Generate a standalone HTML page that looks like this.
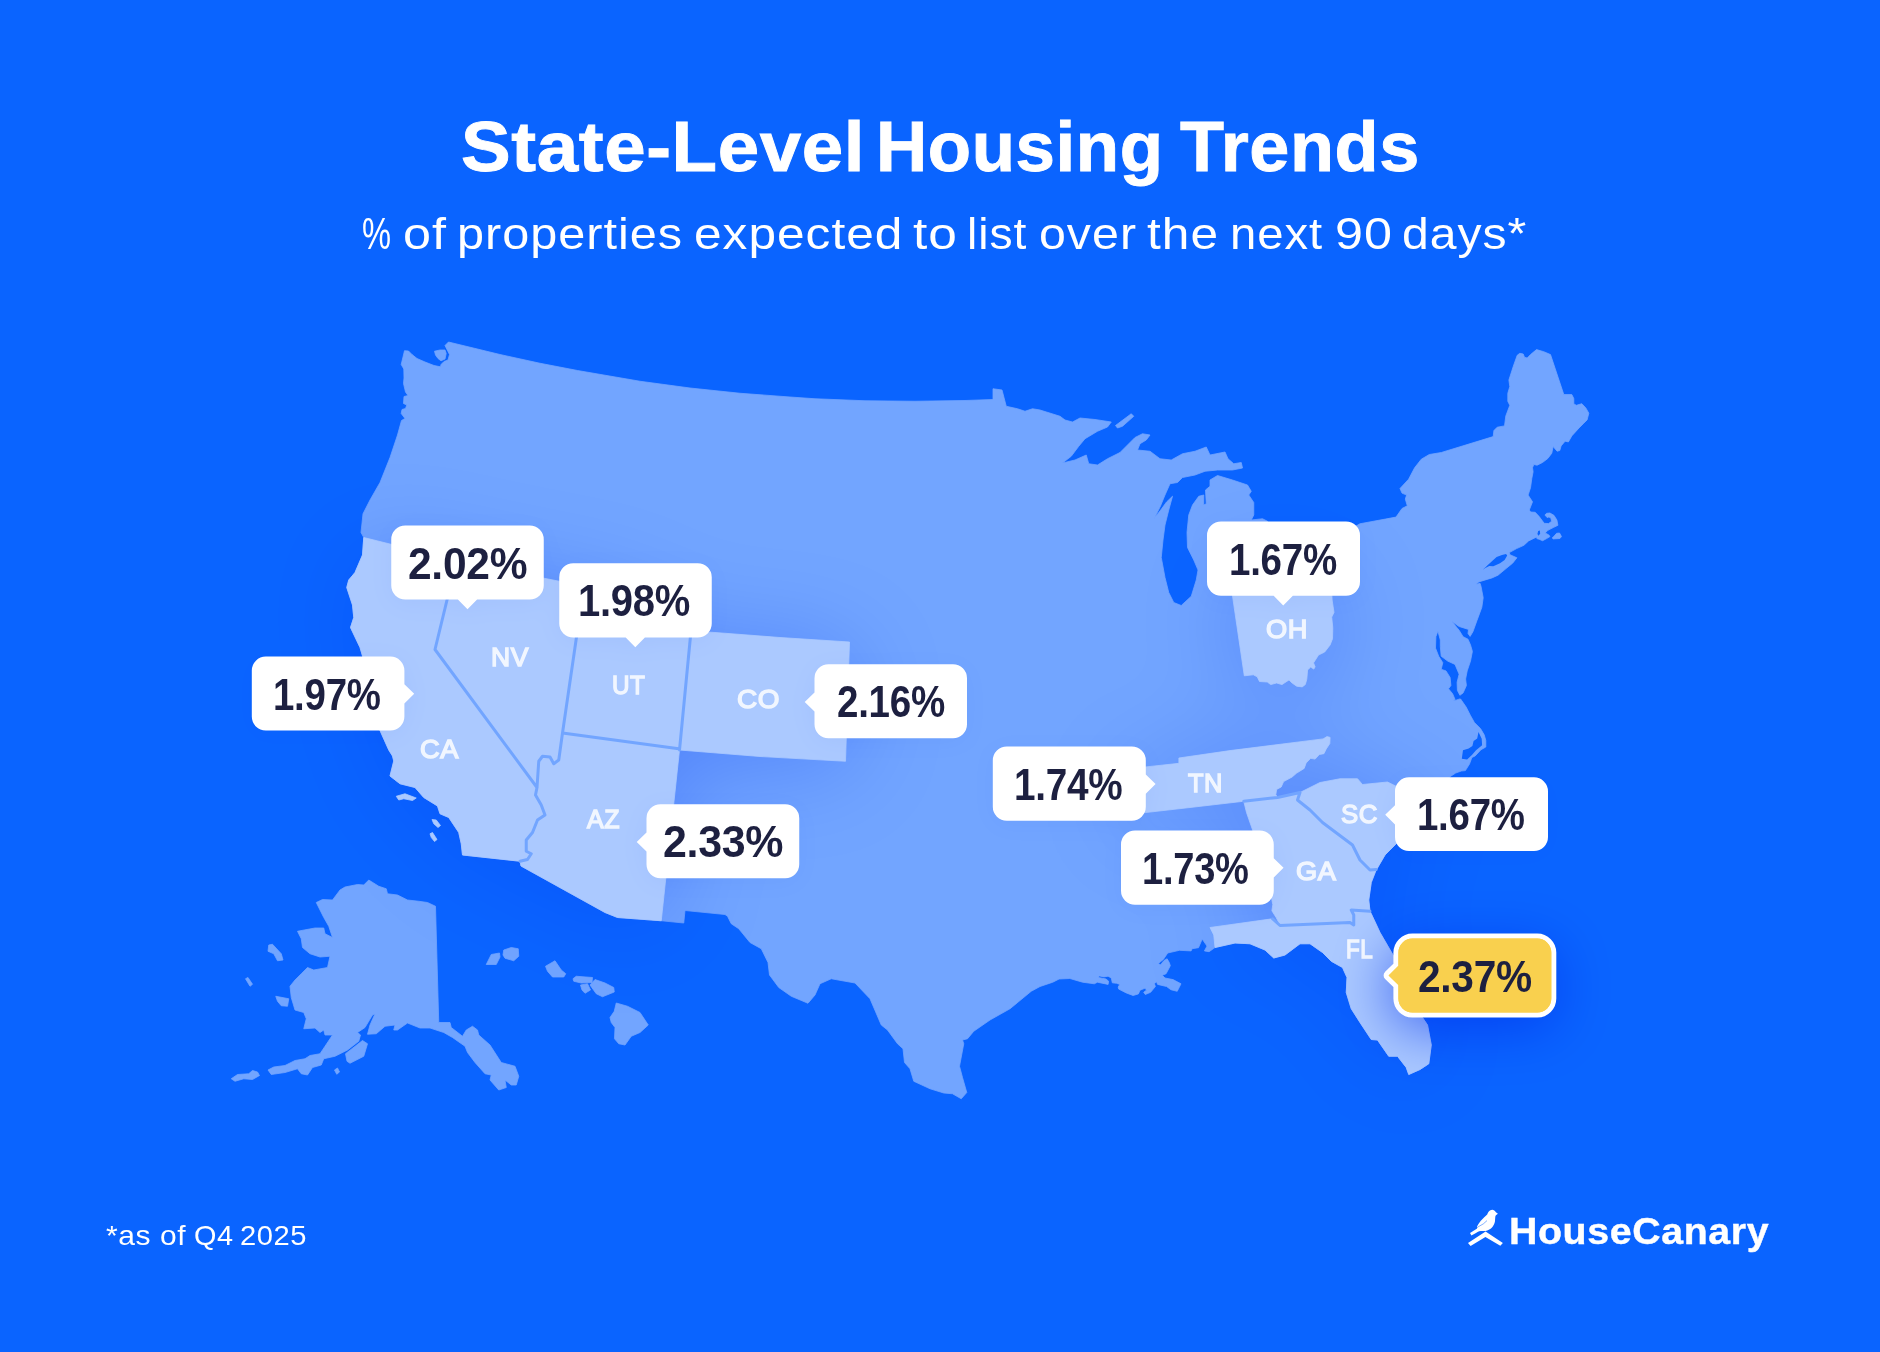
<!DOCTYPE html>
<html lang="en">
<head>
<meta charset="utf-8">
<title>State-Level Housing Trends</title>
<style>
html,body{margin:0;padding:0;}
body{width:1880px;height:1352px;overflow:hidden;background:#0A64FF;font-family:"Liberation Sans",sans-serif;}
#page{position:relative;width:1880px;height:1352px;background:#0A64FF;overflow:hidden;}
#map{position:absolute;left:0;top:0;width:1880px;height:1352px;}
h1{position:absolute;left:0;top:104px;width:1880px;height:86px;margin:0;color:#fff;font-weight:700;
 font-size:71px;line-height:86px;white-space:nowrap;-webkit-text-stroke:0.9px #fff;}
h1 span,h2 span,#foot span,#brand span{position:absolute;top:0;transform-origin:0 50%;}
h2{position:absolute;left:0;top:207px;width:1880px;height:54px;margin:0;color:#fff;font-weight:400;
 font-size:43.5px;line-height:54px;white-space:nowrap;}
.val{position:absolute;margin:0;color:#1D2040;font-weight:700;font-size:44px;line-height:50px;
 transform-origin:0 50%;white-space:nowrap;}
.ab{position:absolute;margin:0;color:#fff;opacity:.84;font-weight:400;font-size:26.5px;line-height:30px;
 -webkit-text-stroke:1.4px #fff;transform-origin:0 50%;white-space:nowrap;}
#foot{position:absolute;left:0;top:1216.5px;width:600px;height:36px;margin:0;color:#fff;font-size:28.5px;line-height:36px;white-space:nowrap;}
#brand{position:absolute;left:0;top:1208px;width:1880px;height:46px;margin:0;color:#fff;font-weight:700;font-size:37.5px;
 line-height:46px;white-space:nowrap;-webkit-text-stroke:0.4px #fff;}
</style>
</head>
<body>
<div id="page">
<svg id="map" width="1880" height="1352" viewBox="0 0 1880 1352">
<defs>
<filter id="sh" x="-30%" y="-30%" width="160%" height="160%" color-interpolation-filters="sRGB">
<feGaussianBlur in="SourceAlpha" stdDeviation="48"/>
<feOffset dx="2" dy="8"/>
<feColorMatrix type="matrix" values="0 0 0 0 0.02  0 0 0 0 0.22  0 0 0 0 0.95  0 0 0 0.30 0"/>
</filter>
<filter id="gsh" x="-60%" y="-80%" width="220%" height="280%" color-interpolation-filters="sRGB">
<feGaussianBlur in="SourceAlpha" stdDeviation="28"/>
<feOffset dx="0" dy="12"/>
<feColorMatrix type="matrix" values="0 0 0 0 0.0  0 0 0 0 0.18  0 0 0 0 0.92  0 0 0 0.62 0"/>
</filter>
<filter id="lsh" x="-30%" y="-50%" width="160%" height="200%" color-interpolation-filters="sRGB">
<feGaussianBlur in="SourceAlpha" stdDeviation="12"/>
<feOffset dx="0" dy="4"/>
<feColorMatrix type="matrix" values="0 0 0 0 0.0  0 0 0 0 0.2  0 0 0 0 0.9  0 0 0 0.05 0"/>
</filter>
</defs>
<path d="M448.5 342 L500 354.5 L540 363.25 L577.5 370.5 L640 381.25 L690 388 L740 393.25 L790 397 L815 398.75 L865 400.75 L915 401.25 L965 400.5 L993 399.5 L993 388.75 L1002 390 L1006.25 406.25 L1017.5 408.75 L1025 411.25 L1032.5 408.75 L1040 410 L1060 416.25 L1065 420 L1072.5 422 L1080 418 L1095 419.5 L1111.25 422 L1107.5 427 L1097.5 431.25 L1085 438.75 L1078.75 446.25 L1071.25 456.25 L1062.5 463 L1075 460 L1086.25 455 L1088.75 463.75 L1097.5 465 L1107.5 458.75 L1120 452.5 L1127.5 445 L1135 437.5 L1142.5 433.75 L1150 435 L1146.25 440 L1140 443.75 L1137.5 450 L1150 451.25 L1160 458.75 L1171.25 460 L1182.5 453.75 L1195 451.25 L1206.25 447 L1210 455 L1225 452 L1228 458.75 L1233.75 463.75 L1241.25 462.5 L1242.5 468 L1232.5 470 L1217.5 470 L1205 471.25 L1195 475 L1182.5 477.5 L1177.5 482.5 L1170 483.75 L1165 495 L1160.5 506 L1155.5 516 L1153.75 518.75 L1160 511 L1166.5 502 L1172.5 496.25 L1168.75 510 L1165 525 L1163 540 L1161.25 557.5 L1165 577.5 L1168.75 592.5 L1173.75 602.5 L1181.25 605.5 L1191.25 596.25 L1196.25 580 L1198 570 L1193.75 560 L1187.5 547.5 L1187 532.5 L1188.75 515 L1192.5 505 L1198.75 496.25 L1203.75 495 L1203.75 505 L1206.25 503.75 L1205.5 490 L1210 486.25 L1210 480 L1217.5 475.5 L1232.5 480 L1247.5 485 L1251.25 491.25 L1248.75 495 L1253.75 502.5 L1253.75 515 L1251.25 520 L1262.5 518.75 L1267.5 521.25 L1270 530 L1263 545 L1268 560 L1290 566 L1320 556 L1345 543 L1358 533 L1356 526 L1360 523.75 L1385.3 519.1 L1396 517.1 L1402 508.5 L1407.3 505.8 L1405.3 499.1 L1406.6 495.1 L1402 493.1 L1400 488.5 L1408.6 479.2 L1414.6 467.8 L1421.3 459.2 L1429.3 454.5 L1441.3 452.5 L1493.2 436.6 L1493.9 430.6 L1497.2 427.2 L1504.5 425.9 L1505.8 415.9 L1509.8 405.3 L1507.8 401.3 L1507.8 393.3 L1509.8 386.6 L1508.9 380 L1513.2 366.6 L1517.2 355.3 L1519.8 353.3 L1523.2 354 L1524.5 357.3 L1527.2 358 L1530.5 354.6 L1536.5 349.6 L1543.8 351.7 L1550.5 354.6 L1563.8 394.6 L1571.8 394.6 L1573.8 398.6 L1573.8 403.9 L1576.4 405.3 L1581.8 403.7 L1585.8 407.9 L1588.8 413.2 L1587.1 419.9 L1583.8 423.2 L1579.1 427.9 L1571.8 435.9 L1568.4 441.9 L1565.1 441.2 L1561.1 445.9 L1559.8 450.5 L1557.1 451.2 L1553.1 446.5 L1551.8 453.2 L1547.8 458.5 L1542.5 462.5 L1537.1 465.2 L1533.8 464.5 L1532.5 467.8 L1533.1 471.8 L1531.8 478.5 L1530.5 487.8 L1528.1 495.1 L1532.5 501.8 L1529.3 510 L1530.6 512 L1535.2 512.3 L1539.2 516.6 L1544.2 523.3 L1548.6 523.6 L1551.6 521.3 L1550.9 518 L1548.9 517 L1547.2 517.6 L1544.9 515 L1546.6 513.3 L1549.9 513 L1553.9 515.3 L1556.9 520 L1557.9 525.3 L1553.2 527.6 L1547.9 530.3 L1545.2 533 L1548.9 535 L1549.9 536.6 L1546.6 538.6 L1542.6 540.7 L1539.2 539.3 L1536.9 538.6 L1536.6 537 L1528.6 540.9 L1523.9 545.3 L1516.6 548.6 L1509.3 552.6 L1509.9 554.7 L1516.9 557.8 L1512.6 563.2 L1506 568.6 L1498 575.2 L1492 577.9 L1478.7 581.9 L1476 584.6 L1480 583.2 L1481 586.3 L1483.2 597.7 L1481.8 607.4 L1477 620.4 L1472.9 631.8 L1470.1 636.4 L1468 633.5 L1468.5 629.4 L1459.1 626.5 L1451.7 621.3 L1459.1 630.2 L1463.1 636.7 L1468 639.2 L1470.5 644.9 L1472.4 651.4 L1470.5 661.1 L1467.2 670.9 L1465.6 679 L1466.4 685.5 L1463.1 692.9 L1459.9 695.3 L1457.4 690.4 L1457.1 682.3 L1459.1 674.2 L1455 664.4 L1447.7 661.1 L1441.2 656.2 L1440.3 646.5 L1440.3 640 L1437.9 631 L1435.9 636.7 L1435.5 648.1 L1438.7 656.2 L1442.8 662.7 L1441.2 669.3 L1446 670.9 L1450.1 677.4 L1450.9 685.5 L1448.5 688.8 L1452.6 693.7 L1455 699.4 L1453.4 701 L1459.9 698.9 L1460.6 699 L1466.2 707.1 L1470.3 715.2 L1474.4 722.5 L1480.5 728.6 L1484.2 734.8 L1485.8 740.4 L1485.8 747 L1480.9 749.8 L1475.2 755.9 L1471.9 757.5 L1469.5 764 L1465.4 770.6 L1461.4 771 L1455.7 773 L1450 776.7 L1440 790 L1420 815 L1400 840 L1385 855 L1376.25 870 L1371.25 882.5 L1368.75 900 L1370 911.25 L1371.25 913.75 L1380 932.5 L1393.75 956.25 L1410 990 L1422.5 1017.5 L1427.5 1025 L1431.25 1045 L1428.75 1063.75 L1420 1069.5 L1408.75 1074.5 L1406.25 1067.5 L1397.5 1056.25 L1388.75 1056.25 L1377.5 1040 L1371.25 1039.5 L1360 1022.5 L1351.25 1008.75 L1346.25 992.5 L1347 977.5 L1342.5 967.5 L1331.25 961.25 L1322.5 952.5 L1310 943.75 L1300 943.75 L1285 955 L1273.75 958 L1265 950 L1250 943.75 L1235 943 L1215 947.5 L1209.1 951.7 L1204.4 950.9 L1207 946.1 L1202.2 939.1 L1198.5 947.7 L1192.1 948.7 L1191.1 950.9 L1179.4 950.3 L1167.7 953 L1163.4 959.4 L1158.1 963.6 L1160.7 964.7 L1164 960.5 L1167.1 958.8 L1169.3 962.6 L1170.3 965.7 L1166.1 973.7 L1162.3 975.3 L1165 978 L1173 979.6 L1181 983.8 L1177.2 991.3 L1170.9 989.7 L1166.6 986.5 L1157.6 984.4 L1156.5 981.7 L1154.4 983.8 L1155.4 986.5 L1150.6 992.3 L1145.3 994.5 L1143.7 992.3 L1146.4 990.2 L1145.3 988.1 L1140 990.2 L1138.4 993.9 L1133.1 995.5 L1126.2 992.9 L1118.7 989.1 L1118.2 987 L1119.8 984.4 L1116.6 983.3 L1112.3 982.8 L1111.3 978 L1108.1 976.2 L1103.8 976.9 L1099.6 975.9 L1098 977.4 L1106 979 L1108.6 981.2 L1108.1 984.4 L1097.4 982.2 L1094.3 983.8 L1082.6 982.2 L1069.8 978.5 L1059.1 979 L1052.8 982.2 L1040 986.5 L1031.25 991.25 L1010 1008.75 L990 1020 L973.75 1031.25 L967.5 1038.75 L962.5 1040 L963.75 1043.75 L959.5 1066.25 L962.5 1077.5 L966.75 1092.5 L961.25 1098.75 L952.5 1093.75 L943.75 1093 L930 1088.75 L913.75 1081.25 L910 1068.75 L904.5 1062.5 L903 1048.75 L897.5 1043.75 L887.5 1030 L881.25 1025 L870 998.75 L855 983 L831.25 978.75 L820 983.75 L815 995 L808 1003.25 L791.25 996.25 L778.75 987.5 L769.5 975 L768 962.5 L761.25 948.75 L750 942.5 L738.75 928.75 L731.25 923.75 L727.5 916.25 L725 914.5 L685 910.5 L683.75 923 L661.25 920.75 L617.5 917.5 L605 912.5 L521 866 L520 861.25 L462.5 855 L461.25 843.75 L458.75 832.5 L448.75 817.5 L440 813.75 L437.5 806 L423.75 797.5 L415 787.5 L400 783.75 L390 776 L393.75 761 L392.5 756 L388.75 750 L380 730.5 L376 715 L377 705 L370 690 L371 680 L366 668 L362.5 656 L360 647.5 L350.5 627.5 L353.75 617.5 L352.5 605 L346.75 587.5 L348.75 580 L355 572.5 L362.5 555 L363.75 537.5 L361 532.5 L363 513.75 L370 500 L380 482.5 L390 457.5 L397.5 435 L401.5 420.5 L405 418.5 L401.2 413.5 L402 409.5 L405.5 408.5 L406.8 405 L403.5 403.5 L404 396.5 L408 395.5 L405.5 392 L403.5 383.5 L404 378 L403.8 369 L401.2 364.5 L403 357 L404.5 350.7 L408.5 351 L412 354.5 L417 358.5 L425 362 L434 365.5 L440.5 366.8 L441 364.5 L444 361.5 L448 360 L449.5 354.5 L445 345.5Z M434.5 351.2 L440 350 L445 350 L446.2 353.5 L445 359 L441 360.8 L438 358.5 L435.5 355Z M1115.5 425.5 L1131.25 413.75 L1133.75 416.25 L1122.5 426.25 L1117.5 428Z M1552.2 538 L1554.2 536 L1556.6 533.3 L1559.5 533 L1561.5 536.6 L1559.9 538.5 L1553.2 538.9Z M368.75 880 L378.75 886.25 L386.25 888.75 L387.5 893.75 L397.5 895 L407.5 900 L418.75 901.25 L427.5 902.5 L435.5 906.25 L438.75 1022.5 L450 1022.5 L451.25 1027.5 L462.5 1036.25 L466.25 1030 L472.5 1026.25 L477.5 1030 L478.75 1035 L490 1045 L501.25 1062.5 L515 1066.25 L518.75 1076.25 L516.25 1085 L511.25 1085 L505 1080 L506.25 1087.5 L498.75 1090 L490 1080 L491.25 1075 L485 1073.75 L475 1062.5 L467.5 1052.5 L465 1046.25 L452.5 1037.5 L443.75 1032.5 L430 1028 L420 1028 L407.5 1023 L397.5 1030 L393.75 1030 L395 1025 L385 1026.25 L376.25 1033.75 L367.5 1034.25 L370 1025 L375 1013.75 L380 1011.25 L372.5 1015 L365 1027.5 L357.5 1032.5 L360.5 1035 L358.75 1041.25 L347.5 1050 L335 1056.25 L323.75 1058.75 L321.25 1065 L312.5 1067.5 L307.5 1075 L301.25 1073.75 L297.5 1068.75 L285 1072.5 L271.25 1074.5 L268 1070 L273.75 1067 L285 1065.5 L295 1060.5 L305 1058.75 L310 1055.5 L320 1053.75 L325 1046.25 L332.5 1035 L325 1035 L323.75 1030 L320 1032.5 L315 1028 L303.75 1028.75 L306.25 1018.75 L303.75 1012.5 L295 1010 L291.25 997.5 L290 986.25 L295 980 L301.25 973.75 L307.5 967.5 L313.75 970 L327.5 967.5 L330 956.25 L320 957 L310 953.75 L302.5 947.5 L301.25 938.75 L297.5 931.25 L315 928 L323.75 928 L325 933.75 L332.5 937.5 L328.75 926.25 L323.75 917.5 L316.25 902.5 L322.5 899.5 L332.5 900 L340 890 L345 887 L357.5 884.5 L363.75 885Z M268.75 945 L272.5 944.25 L281.25 953.75 L283 960 L277.5 960.75 L273.75 953.75 L268 951.25Z M245.5 978.75 L248 977.5 L252.5 984.25 L250 986.25Z M275.75 996.25 L288.75 998.75 L287.5 1006.25 L281.25 1005.75 L277.5 1001.25Z M345.5 1053.75 L362.5 1040.5 L367.5 1043.75 L363.75 1056.25 L350 1063.25 L347 1061.25Z M334.5 1070 L337.5 1068 L339.5 1072 L336.75 1074.25Z M231.25 1078.75 L237.5 1074.5 L248.75 1073.75 L252.5 1070.5 L257.5 1072 L259.5 1075.5 L252.5 1079.5 L243.75 1078.75 L235 1081.25Z M486.25 964.5 L491.25 954.5 L499.5 953 L500 957 L496.25 964.5Z M503.75 950 L511.25 947.5 L518.25 948.75 L518.75 956.25 L513.75 960.75 L505 958.25 L503 955Z M545.5 966.25 L555 960.75 L561.25 970 L565.75 973.75 L563.75 977 L552.5 977 L547.5 971.25Z M573 978.75 L576.25 976.25 L592.5 977.5 L592 982.5 L581.25 983 L573.75 981.25Z M580.5 985 L587.5 983.75 L590.5 990 L585 993.25 L582 990Z M590 985 L595 979.5 L605 983 L613.75 987.5 L614.25 992 L602.5 996.75 L596.25 993.75Z M610 1017.5 L614.25 1011.25 L616.25 1003 L627.5 1006.25 L640 1012.5 L648.25 1025 L640 1032.5 L631.25 1036.25 L625 1045 L618.75 1043.75 L614.5 1038.75 L615 1027.5 L611.25 1022.5Z" fill="#72A5FF" stroke="#72A5FF" stroke-width="0.8" stroke-linejoin="round"/>
<path d="M1482.6 569.9 L1487.3 565.6 L1496.6 557.1 L1502 554.9 L1506 554.1 L1507.2 555.6 L1504.6 559.9 L1500 563.2 L1493.3 566.2 L1489.3 565.9 L1485.3 567.9Z M1538.2 531 L1539.8 530.5 L1540.2 533.5 L1538.6 535.8 L1537.4 534Z M1478.5 731.9 L1481.7 738.8 L1482.1 745.3 L1476 750.2 L1471.9 755.1 L1467.1 759.6 L1461.8 758.8 L1463 750.2 L1468.7 748.6 L1472.4 746.1 L1473.6 740.9 L1477.2 738.4Z" fill="#0A64FF"/>
<g filter="url(#sh)"><path d="M462.5 855 L461.25 843.75 L458.75 832.5 L448.75 817.5 L440 813.75 L437.5 806 L423.75 797.5 L415 787.5 L400 783.75 L390 776 L393.75 761 L392.5 756 L388.75 750 L380 730.5 L376 715 L377 705 L370 690 L371 680 L366 668 L362.5 656 L360 647.5 L350.5 627.5 L353.75 617.5 L352.5 605 L346.75 587.5 L348.75 580 L355 572.5 L362.5 555 L363.75 537.5 L410 549 L461.5 561.5 L510 571.5 L559.25 581.25 L584 586 L652 597 L648 625 L691 631 L715 632.5 L780 637.5 L849.5 642 L845.5 761.25 L760 756.5 L679.5 750 L661.25 920.75 L617.5 917.5 L605 912.5 L521 866 L520 861.25Z M396.25 796.25 L405 793.75 L416.25 798 L412.5 800.5 L403.75 798.75 L398.75 800Z M432 819.5 L436.25 820 L440.5 825.5 L438 827.5 L433.75 823.75Z M430 833.75 L432.5 832.5 L437 839.5 L434.5 841.5 L431.25 837.5Z M1125 769 L1145.9 766.9 L1178.9 763.35 L1178.9 758 L1230 750.6 L1323.1 738.9 L1327 736.6 L1330.1 737.4 L1329.8 743.6 L1326.2 749 L1323.9 753.7 L1319.3 754.5 L1315.1 759.1 L1310.7 758.3 L1306.1 763 L1304.2 768.4 L1296.7 773.1 L1292.1 777 L1283.6 781.6 L1281.2 787 L1276.6 789.4 L1275.8 794.8 L1277.3 796.8 L1243.75 801.25 L1190 807.5 L1145.9 812.5 L1125 815Z M1243.75 801.25 L1277.5 797.5 L1300 792.5 L1297.5 800 L1310 810 L1322.5 822.5 L1342.5 837.5 L1352.5 845 L1360 860 L1370 870 L1376.25 869.5 L1371.25 882.5 L1368.75 900 L1370 911.25 L1351.25 910 L1353.75 915 L1353.75 925 L1350 922.5 L1280 925 L1276.3 917.8 L1271.9 910.8 L1272.8 904.65 L1268 880 L1260 855 L1252.6 830 L1246.5 812.5Z M1300 792.5 L1320 782.5 L1340 778.75 L1357.5 778.75 L1362.5 784.5 L1387.5 782 L1398.75 787.5 L1440 795 L1420 815 L1400 840 L1385 855 L1376.25 870 L1370 870 L1360 860 L1352.5 845 L1342.5 837.5 L1322.5 822.5 L1310 810 L1297.5 800Z M1210 927.5 L1272.5 918.75 L1280 925.5 L1350 922.5 L1353.75 925 L1353.75 915 L1351.25 910 L1370 911.25 L1371.25 913.75 L1380 932.5 L1393.75 956.25 L1410 990 L1422.5 1017.5 L1427.5 1025 L1431.25 1045 L1428.75 1063.75 L1420 1069.5 L1408.75 1074.5 L1406.25 1067.5 L1397.5 1056.25 L1388.75 1056.25 L1377.5 1040 L1371.25 1039.5 L1360 1022.5 L1351.25 1008.75 L1346.25 992.5 L1347 977.5 L1342.5 967.5 L1331.25 961.25 L1322.5 952.5 L1310 943.75 L1300 943.75 L1285 955 L1273.75 958 L1265 950 L1250 943.75 L1235 943 L1215 947.5 L1213.75 935Z M1229 570 L1233.1 600 L1244.3 675.8 L1253.3 674.8 L1257.2 676.8 L1259.5 681.5 L1267.3 682 L1270.7 684.6 L1276.6 683 L1282 684.6 L1289 679.9 L1292.1 683 L1296.7 686.2 L1302.2 686.9 L1305.3 684.6 L1306.8 679.2 L1307.6 669.9 L1310.7 667.1 L1313.8 669.1 L1315.1 666.8 L1313.5 662.9 L1318.5 655.1 L1324.7 652 L1330.1 645 L1332.5 638.8 L1332.8 627.9 L1331.7 617.1 L1334 612.4 L1332.1 600 L1331 570Z" fill="#000"/></g>
<path d="M462.5 855 L461.25 843.75 L458.75 832.5 L448.75 817.5 L440 813.75 L437.5 806 L423.75 797.5 L415 787.5 L400 783.75 L390 776 L393.75 761 L392.5 756 L388.75 750 L380 730.5 L376 715 L377 705 L370 690 L371 680 L366 668 L362.5 656 L360 647.5 L350.5 627.5 L353.75 617.5 L352.5 605 L346.75 587.5 L348.75 580 L355 572.5 L362.5 555 L363.75 537.5 L410 549 L461.5 561.5 L510 571.5 L559.25 581.25 L584 586 L652 597 L648 625 L691 631 L715 632.5 L780 637.5 L849.5 642 L845.5 761.25 L760 756.5 L679.5 750 L661.25 920.75 L617.5 917.5 L605 912.5 L521 866 L520 861.25Z M396.25 796.25 L405 793.75 L416.25 798 L412.5 800.5 L403.75 798.75 L398.75 800Z M432 819.5 L436.25 820 L440.5 825.5 L438 827.5 L433.75 823.75Z M430 833.75 L432.5 832.5 L437 839.5 L434.5 841.5 L431.25 837.5Z M1125 769 L1145.9 766.9 L1178.9 763.35 L1178.9 758 L1230 750.6 L1323.1 738.9 L1327 736.6 L1330.1 737.4 L1329.8 743.6 L1326.2 749 L1323.9 753.7 L1319.3 754.5 L1315.1 759.1 L1310.7 758.3 L1306.1 763 L1304.2 768.4 L1296.7 773.1 L1292.1 777 L1283.6 781.6 L1281.2 787 L1276.6 789.4 L1275.8 794.8 L1277.3 796.8 L1243.75 801.25 L1190 807.5 L1145.9 812.5 L1125 815Z M1243.75 801.25 L1277.5 797.5 L1300 792.5 L1297.5 800 L1310 810 L1322.5 822.5 L1342.5 837.5 L1352.5 845 L1360 860 L1370 870 L1376.25 869.5 L1371.25 882.5 L1368.75 900 L1370 911.25 L1351.25 910 L1353.75 915 L1353.75 925 L1350 922.5 L1280 925 L1276.3 917.8 L1271.9 910.8 L1272.8 904.65 L1268 880 L1260 855 L1252.6 830 L1246.5 812.5Z M1300 792.5 L1320 782.5 L1340 778.75 L1357.5 778.75 L1362.5 784.5 L1387.5 782 L1398.75 787.5 L1440 795 L1420 815 L1400 840 L1385 855 L1376.25 870 L1370 870 L1360 860 L1352.5 845 L1342.5 837.5 L1322.5 822.5 L1310 810 L1297.5 800Z M1210 927.5 L1272.5 918.75 L1280 925.5 L1350 922.5 L1353.75 925 L1353.75 915 L1351.25 910 L1370 911.25 L1371.25 913.75 L1380 932.5 L1393.75 956.25 L1410 990 L1422.5 1017.5 L1427.5 1025 L1431.25 1045 L1428.75 1063.75 L1420 1069.5 L1408.75 1074.5 L1406.25 1067.5 L1397.5 1056.25 L1388.75 1056.25 L1377.5 1040 L1371.25 1039.5 L1360 1022.5 L1351.25 1008.75 L1346.25 992.5 L1347 977.5 L1342.5 967.5 L1331.25 961.25 L1322.5 952.5 L1310 943.75 L1300 943.75 L1285 955 L1273.75 958 L1265 950 L1250 943.75 L1235 943 L1215 947.5 L1213.75 935Z M1229 570 L1233.1 600 L1244.3 675.8 L1253.3 674.8 L1257.2 676.8 L1259.5 681.5 L1267.3 682 L1270.7 684.6 L1276.6 683 L1282 684.6 L1289 679.9 L1292.1 683 L1296.7 686.2 L1302.2 686.9 L1305.3 684.6 L1306.8 679.2 L1307.6 669.9 L1310.7 667.1 L1313.8 669.1 L1315.1 666.8 L1313.5 662.9 L1318.5 655.1 L1324.7 652 L1330.1 645 L1332.5 638.8 L1332.8 627.9 L1331.7 617.1 L1334 612.4 L1332.1 600 L1331 570Z" fill="#ABC9FF" stroke="#ABC9FF" stroke-width="0.8" stroke-linejoin="round"/>
<path d="M447.5 598 L435 649.5 L537 787.5 M584 586 L576.25 638.75 L562.5 733 M562.5 733 L558.75 760 L553.75 763.75 L550 757 L542.5 756.25 L538.75 761.25 L537 787.5 M537 787.5 L535.5 795 L541.25 805 L545 815 L537.5 820 L532.5 832.5 L526.25 840 L526.25 851.25 L531.25 853.75 L527.5 859.5 L520 861.25 M562.5 733 L678.75 748.75 M691 631 L679.5 750 M1243.75 801.25 L1277.5 797.5 L1300 792.5 M1300 792.5 L1297.5 800 L1310 810 L1322.5 822.5 L1342.5 837.5 L1352.5 845 L1360 860 L1370 870 L1376.25 869.5 M1272.5 918.75 L1280 925.5 L1350 922.5 L1353.75 925 L1353.75 915 L1351.25 910 L1370 911.25" fill="none" stroke="#72A5FF" stroke-width="3" stroke-linejoin="round" stroke-linecap="round"/>
<g filter="url(#lsh)"><path d="M405.25 525.5 H529.75 A14 14 0 0 1 543.75 539.5 V585.5 A14 14 0 0 1 529.75 599.5 H477.1 L467.5 609.3 L457.9 599.5 H405.25 A14 14 0 0 1 391.25 585.5 V539.5 A14 14 0 0 1 405.25 525.5 Z M573.25 563.25 H697.75 A14 14 0 0 1 711.75 577.25 V623.5 A14 14 0 0 1 697.75 637.5 H644.9 L635.3 647.3 L625.7 637.5 H573.25 A14 14 0 0 1 559.25 623.5 V577.25 A14 14 0 0 1 573.25 563.25 Z M265.8 656.6 H390.4 A14 14 0 0 1 404.4 670.6 V684.2 L414.2 693.8 L404.4 703.4 V716.6 A14 14 0 0 1 390.4 730.6 H265.8 A14 14 0 0 1 251.8 716.6 V670.6 A14 14 0 0 1 265.8 656.6 Z M828.5 664.25 H953 A14 14 0 0 1 967 678.25 V724.25 A14 14 0 0 1 953 738.25 H828.5 A14 14 0 0 1 814.5 724.25 V711.6 L804.7 702 L814.5 692.4 V678.25 A14 14 0 0 1 828.5 664.25 Z M660.5 804.25 H785.25 A14 14 0 0 1 799.25 818.25 V864.25 A14 14 0 0 1 785.25 878.25 H660.5 A14 14 0 0 1 646.5 864.25 V851.6 L636.7 842 L646.5 832.4 V818.25 A14 14 0 0 1 660.5 804.25 Z M1221 521.5 H1346 A14 14 0 0 1 1360 535.5 V581.75 A14 14 0 0 1 1346 595.75 H1292.85 L1283.25 605.55 L1273.65 595.75 H1221 A14 14 0 0 1 1207 581.75 V535.5 A14 14 0 0 1 1221 521.5 Z M1006.8 746.5 H1131.8 A14 14 0 0 1 1145.8 760.5 V774.5 L1155.6 784.1 L1145.8 793.7 V806.75 A14 14 0 0 1 1131.8 820.75 H1006.8 A14 14 0 0 1 992.8 806.75 V760.5 A14 14 0 0 1 1006.8 746.5 Z M1135 830.5 H1259.75 A14 14 0 0 1 1273.75 844.5 V858.2 L1283.55 867.8 L1273.75 877.4 V890.75 A14 14 0 0 1 1259.75 904.75 H1135 A14 14 0 0 1 1121 890.75 V844.5 A14 14 0 0 1 1135 830.5 Z M1409 777.3 H1534 A14 14 0 0 1 1548 791.3 V837.1 A14 14 0 0 1 1534 851.1 H1409 A14 14 0 0 1 1395 837.1 V824.4 L1385.2 814.8 L1395 805.2 V791.3 A14 14 0 0 1 1409 777.3 Z" fill="#000"/></g>
<g filter="url(#gsh)"><path d="M1412.4 938.6 H1537.3 A14 14 0 0 1 1551.3 952.6 V998.6 A14 14 0 0 1 1537.3 1012.6 H1412.4 A14 14 0 0 1 1398.4 998.6 V985 L1388.6 975.4 L1398.4 965.8 V952.6 A14 14 0 0 1 1412.4 938.6 Z" fill="#000" stroke="#000" stroke-width="10"/></g>
<path d="M405.25 525.5 H529.75 A14 14 0 0 1 543.75 539.5 V585.5 A14 14 0 0 1 529.75 599.5 H477.1 L467.5 609.3 L457.9 599.5 H405.25 A14 14 0 0 1 391.25 585.5 V539.5 A14 14 0 0 1 405.25 525.5 Z M573.25 563.25 H697.75 A14 14 0 0 1 711.75 577.25 V623.5 A14 14 0 0 1 697.75 637.5 H644.9 L635.3 647.3 L625.7 637.5 H573.25 A14 14 0 0 1 559.25 623.5 V577.25 A14 14 0 0 1 573.25 563.25 Z M265.8 656.6 H390.4 A14 14 0 0 1 404.4 670.6 V684.2 L414.2 693.8 L404.4 703.4 V716.6 A14 14 0 0 1 390.4 730.6 H265.8 A14 14 0 0 1 251.8 716.6 V670.6 A14 14 0 0 1 265.8 656.6 Z M828.5 664.25 H953 A14 14 0 0 1 967 678.25 V724.25 A14 14 0 0 1 953 738.25 H828.5 A14 14 0 0 1 814.5 724.25 V711.6 L804.7 702 L814.5 692.4 V678.25 A14 14 0 0 1 828.5 664.25 Z M660.5 804.25 H785.25 A14 14 0 0 1 799.25 818.25 V864.25 A14 14 0 0 1 785.25 878.25 H660.5 A14 14 0 0 1 646.5 864.25 V851.6 L636.7 842 L646.5 832.4 V818.25 A14 14 0 0 1 660.5 804.25 Z M1221 521.5 H1346 A14 14 0 0 1 1360 535.5 V581.75 A14 14 0 0 1 1346 595.75 H1292.85 L1283.25 605.55 L1273.65 595.75 H1221 A14 14 0 0 1 1207 581.75 V535.5 A14 14 0 0 1 1221 521.5 Z M1006.8 746.5 H1131.8 A14 14 0 0 1 1145.8 760.5 V774.5 L1155.6 784.1 L1145.8 793.7 V806.75 A14 14 0 0 1 1131.8 820.75 H1006.8 A14 14 0 0 1 992.8 806.75 V760.5 A14 14 0 0 1 1006.8 746.5 Z M1135 830.5 H1259.75 A14 14 0 0 1 1273.75 844.5 V858.2 L1283.55 867.8 L1273.75 877.4 V890.75 A14 14 0 0 1 1259.75 904.75 H1135 A14 14 0 0 1 1121 890.75 V844.5 A14 14 0 0 1 1135 830.5 Z M1409 777.3 H1534 A14 14 0 0 1 1548 791.3 V837.1 A14 14 0 0 1 1534 851.1 H1409 A14 14 0 0 1 1395 837.1 V824.4 L1385.2 814.8 L1395 805.2 V791.3 A14 14 0 0 1 1409 777.3 Z" fill="#fff"/>
<path d="M1412.4 938.6 H1537.3 A14 14 0 0 1 1551.3 952.6 V998.6 A14 14 0 0 1 1537.3 1012.6 H1412.4 A14 14 0 0 1 1398.4 998.6 V985 L1388.6 975.4 L1398.4 965.8 V952.6 A14 14 0 0 1 1412.4 938.6 Z" fill="#F9D04E" stroke="#fff" stroke-width="10" stroke-linejoin="round" paint-order="stroke"/>
<path d="M1412.4 938.6 H1537.3 A14 14 0 0 1 1551.3 952.6 V998.6 A14 14 0 0 1 1537.3 1012.6 H1412.4 A14 14 0 0 1 1398.4 998.6 V985 L1388.6 975.4 L1398.4 965.8 V952.6 A14 14 0 0 1 1412.4 938.6 Z" fill="#F9D04E"/>
<g fill="#fff" stroke="none">
<path d="M1468 1242.9 L1485.6 1231.5 L1502.9 1243.1 L1500.3 1245.7 L1485.4 1236.9 L1470.6 1245.9 Z"/>
<path d="M1497.9 1213.8 L1495.9 1212.2 C1495.4 1211.4 1494.9 1210.8 1494.3 1210.4 C1493.7 1209.9 1493 1209.7 1492.3 1209.7 C1491.6 1209.7 1491 1209.9 1490.4 1210.2 C1489.6 1210.7 1488.9 1211.3 1488.4 1212 C1487.9 1212.8 1487.5 1213.6 1487.2 1214.4 L1484 1217.6 L1480.8 1220.8 L1478.8 1223.6 L1477 1226.6 L1477.6 1227.2 L1476.8 1228.8 L1470 1232.9 L1471.4 1235.5 L1476 1232.9 C1477 1232.3 1478.1 1231.7 1479.2 1231.3 C1480.2 1231 1481.3 1230.9 1482.4 1230.9 L1485.6 1231.1 C1486.7 1230.8 1487.8 1230.4 1488.8 1229.8 C1489.8 1229.3 1490.7 1228.7 1491.5 1228 C1492.3 1227.2 1493 1226.2 1493.5 1225.2 C1494 1224.3 1494.4 1223.4 1494.7 1222.4 C1495 1221.4 1495.1 1220.3 1495.1 1219.2 L1495.3 1216.8 C1495.4 1216.2 1495.6 1215.7 1495.9 1215.2 Z"/>
<path d="M1477.8 1227 Q1484.2 1224 1487 1220.6" fill="none" stroke="#0A64FF" stroke-width="0.5"/>
</g>
</svg>
<h1><span style="left:460.5px;letter-spacing:0.6px;transform:scaleX(1.0485);">State-Level</span> <span style="left:876px;letter-spacing:0.6px;transform:scaleX(0.9979);">Housing</span> <span style="left:1180px;letter-spacing:0.6px;transform:scaleX(1.0146);">Trends</span></h1>
<h2><span style="left:362px;letter-spacing:0.9px;transform:scaleX(0.7505);">%</span> <span style="left:402.5px;letter-spacing:0.9px;transform:scaleX(1.1558);">of</span> <span style="left:456.5px;letter-spacing:0.9px;transform:scaleX(1.1172);">properties</span> <span style="left:693.5px;letter-spacing:0.9px;transform:scaleX(1.1397);">expected</span> <span style="left:913px;letter-spacing:0.9px;transform:scaleX(1.1829);">to</span> <span style="left:967px;letter-spacing:0.9px;transform:scaleX(1.0622);">list</span> <span style="left:1038.5px;letter-spacing:0.9px;transform:scaleX(1.1106);">over</span> <span style="left:1147px;letter-spacing:0.9px;transform:scaleX(1.1400);">the</span> <span style="left:1229.5px;letter-spacing:0.9px;transform:scaleX(1.0854);">next</span> <span style="left:1335px;letter-spacing:0.9px;transform:scaleX(1.1567);">90</span> <span style="left:1402px;letter-spacing:0.9px;transform:scaleX(1.1055);">days*</span></h2>
<p class="val" style="left:407.75px;top:538.5px;letter-spacing:-0.3px;transform:scaleX(0.9670);">2.02%</p>
<p class="val" style="left:578px;top:576.38px;letter-spacing:-0.3px;transform:scaleX(0.9085);">1.98%</p>
<p class="val" style="left:273px;top:669.6px;letter-spacing:-0.3px;transform:scaleX(0.8734);">1.97%</p>
<p class="val" style="left:836.5px;top:677.25px;letter-spacing:-0.3px;transform:scaleX(0.8761);">2.16%</p>
<p class="val" style="left:662.75px;top:817.25px;letter-spacing:-0.3px;transform:scaleX(0.9752);">2.33%</p>
<p class="val" style="left:1229.25px;top:534.62px;letter-spacing:-0.3px;transform:scaleX(0.8750);">1.67%</p>
<p class="val" style="left:1014px;top:759.62px;letter-spacing:-0.3px;transform:scaleX(0.8801);">1.74%</p>
<p class="val" style="left:1142.25px;top:843.62px;letter-spacing:-0.3px;transform:scaleX(0.8650);">1.73%</p>
<p class="val" style="left:1417px;top:790.2px;letter-spacing:-0.3px;transform:scaleX(0.8734);">1.67%</p>
<p class="val" style="left:1418px;top:951.6px;letter-spacing:-0.3px;transform:scaleX(0.9240);">2.37%</p>
<p class="ab" style="left:491px;top:641.75px;letter-spacing:0.6px;transform:scaleX(1.0004);">NV</p>
<p class="ab" style="left:611.5px;top:669.75px;letter-spacing:0.6px;transform:scaleX(0.9147);">UT</p>
<p class="ab" style="left:737px;top:683.5px;letter-spacing:0.6px;transform:scaleX(1.0515);">CO</p>
<p class="ab" style="left:420.25px;top:733.5px;letter-spacing:0.6px;transform:scaleX(1.0266);">CA</p>
<p class="ab" style="left:586.5px;top:803.75px;letter-spacing:0.6px;transform:scaleX(0.9437);">AZ</p>
<p class="ab" style="left:1266.25px;top:614px;letter-spacing:0.6px;transform:scaleX(1.0270);">OH</p>
<p class="ab" style="left:1187.5px;top:768.3px;letter-spacing:0.6px;transform:scaleX(0.9603);">TN</p>
<p class="ab" style="left:1341px;top:798.8px;letter-spacing:0.6px;transform:scaleX(0.9730);">SC</p>
<p class="ab" style="left:1296px;top:856px;letter-spacing:0.6px;transform:scaleX(1.0259);">GA</p>
<p class="ab" style="left:1346px;top:933.5px;letter-spacing:0.6px;transform:scaleX(0.8471);">FL</p>
<p id="foot"><span style="left:106px;letter-spacing:0.5px;transform:scaleX(1.0539);">*as</span> <span style="left:159.5px;letter-spacing:0.5px;transform:scaleX(1.0506);">of</span> <span style="left:193.5px;letter-spacing:0.5px;transform:scaleX(1.0125);">Q4</span> <span style="left:240px;letter-spacing:0.5px;transform:scaleX(1.0223);">2025</span></p>
<p id="brand"><span style="left:1509px;letter-spacing:0.6px;transform:scaleX(1.0474);">HouseCanary</span></p>
</div>
</body>
</html>
